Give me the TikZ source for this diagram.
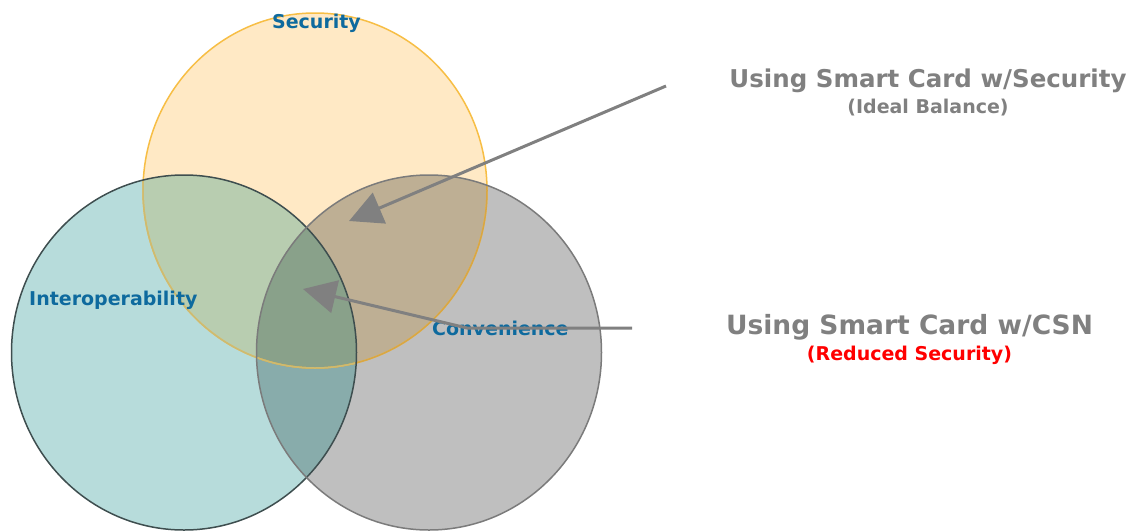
\documentclass[tikz,border=0pt]{standalone}
\usepackage{fontspec}
\setmainfont{DejaVu Sans}
\usetikzlibrary{arrows.meta}

% set colours and their overlaps
\definecolor{secfill}{HTML}{FFE9C5}
\definecolor{intfill}{HTML}{B7DCDB}
\definecolor{confill}{HTML}{BFBFBF}
\definecolor{secint}{HTML}{B8CDB0}
\definecolor{seccon}{HTML}{BEAF94}
\definecolor{intcon}{HTML}{88ACAB}
\definecolor{allthree}{HTML}{89A18A}
\definecolor{secline}{HTML}{F7BE45}
\definecolor{seclineint}{HTML}{CDBB72}
\definecolor{seclinecon}{HTML}{D7A646}
\definecolor{intline}{HTML}{3E4E4F}
\definecolor{conline}{HTML}{7B7B7B}
\definecolor{labelblue}{HTML}{0E6A9E}
\definecolor{notegray}{HTML}{808080}
\definecolor{warnred}{HTML}{FF0000}

\begin{document}
\begin{tikzpicture}[x=1pt,y=-1pt,
  setlabel/.style={font=\bfseries\fontsize{19}{22}\selectfont, text=labelblue, inner sep=0pt},
  notehead/.style={font=\bfseries\fontsize{24.5}{28}\selectfont, text=notegray, inner sep=0pt, anchor=base},
  notesub/.style={font=\bfseries\fontsize{19}{22}\selectfont, inner sep=0pt, anchor=base},
  callout/.style={draw=notegray, line width=3pt, line join=round,
    -{Triangle[length=33pt,width=33pt]}},
  ]
\useasboundingbox (0,0) rectangle (1135,531);
\clip (0,0) rectangle (1135,531);

% plain set areas
\fill[secfill] (315,190.5) ellipse [x radius=172pt, y radius=177.5pt];
\fill[intfill] (184,352.5) ellipse [x radius=172.5pt, y radius=177.5pt];
\fill[confill] (429,352.5) ellipse [x radius=172.5pt, y radius=177.5pt];

% Interoperability and Convenience overlap
\begin{scope}
  \clip (184,352.5) ellipse [x radius=172.5pt, y radius=177.5pt];
  \fill[intcon] (429,352.5) ellipse [x radius=172.5pt, y radius=177.5pt];
\end{scope}

% overlaps inside Security
\begin{scope}
  \clip (315,190.5) ellipse [x radius=172pt, y radius=177.5pt];
  \fill[secint] (184,352.5) ellipse [x radius=172.5pt, y radius=177.5pt];
  \fill[seccon] (429,352.5) ellipse [x radius=172.5pt, y radius=177.5pt];
  \clip (184,352.5) ellipse [x radius=172.5pt, y radius=177.5pt];
  \fill[allthree] (429,352.5) ellipse [x radius=172.5pt, y radius=177.5pt];
\end{scope}

% Security outline, muted where the other sets lie over it
\draw[secline, line width=1.5pt] (315,190.5) ellipse [x radius=172pt, y radius=177.5pt];
\begin{scope}
  \clip (429,352.5) ellipse [x radius=172.5pt, y radius=177.5pt];
  \draw[seclinecon, line width=1.5pt] (315,190.5) ellipse [x radius=172pt, y radius=177.5pt];
\end{scope}
\begin{scope}
  \clip (184,352.5) ellipse [x radius=172.5pt, y radius=177.5pt];
  \draw[seclineint, line width=1.5pt] (315,190.5) ellipse [x radius=172pt, y radius=177.5pt];
\end{scope}

% other outlines
\draw[intline, line width=1.5pt] (184,352.5) ellipse [x radius=172.5pt, y radius=177.5pt];
\draw[conline, line width=1.5pt] (429,352.5) ellipse [x radius=172.5pt, y radius=177.5pt];

% set names
\node[setlabel, anchor=base] (security) at (316.5,28) {Security};
\node[setlabel, anchor=base west] (interop) at (29,305) {Interoperability};
\node[setlabel, anchor=base west] (conven) at (432,335) {Convenience};

% notes on the right
\node[notehead] (ideal) at (928,87) {Using Smart Card w/Security};
\node[notesub, text=notegray] (idealsub) at (928,113) {(Ideal Balance)};
\node[notehead, font=\bfseries\fontsize{26.5}{30}\selectfont] (csn) at (909.5,334) {Using Smart Card w/CSN};
\node[notesub, text=warnred] (csnsub) at (909.5,360) {(Reduced Security)};

% callout arrows
\coordinate (idealstart) at (666,86);
\coordinate (idealtip) at (349,221);
\coordinate (csnstart) at (632,328);
\coordinate (csnbend) at (467,328);
\coordinate (csntip) at (303,289);
\draw[callout] (idealstart) -- (idealtip);
\draw[callout] (csnstart) -- (csnbend) -- (csntip);
\end{tikzpicture}
\end{document}
